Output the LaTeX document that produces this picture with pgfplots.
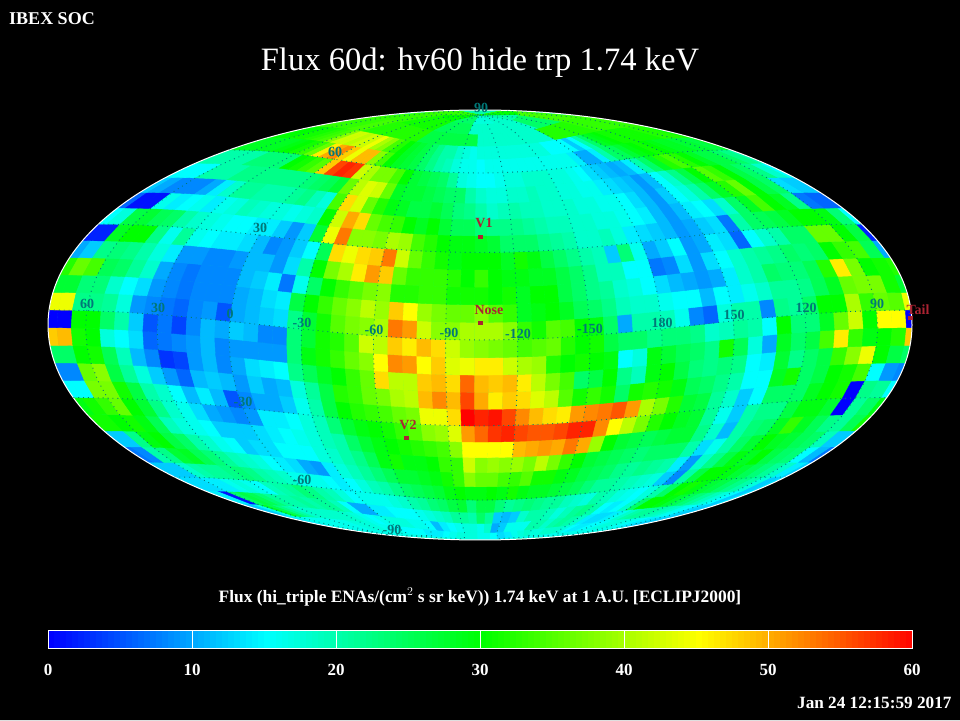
\documentclass[border=0pt]{standalone}
\usepackage{fontspec}
\setmainfont{Liberation Serif}
\usepackage{pgfplots}
\pgfplotsset{compat=1.18}

\definecolor{gratc}{RGB}{0,120,120}
\definecolor{markc}{RGB}{170,35,50}
\definecolor{capc}{RGB}{0,255,170}

% flux per 6x6 degree cell, south to north, one line per latitude band
\def\flux{%
{16,16,16,16,16,16,16,16,16,16,16,16,16,16,16,16,16,16,16,16,16,16,16,16,16,16,16,16,16,16,16,16,16,16,16,16,16,16,16,16,16,16,16,16,16,16,16,16,16,16,16,16,16,16,16,16,16,16,16,16},%
{12,14,16,16,16,16,16,16,16,16,16,17,17,17,17,16,16,16,15,15,15,15,14,14,14,15,16,17,17,17,16,16,15,13,14,16,17,18,17,17,18,18,18,17,15,14,14,15,15,16,17,17,17,16,16,15,14,14,13,12},%
{12,12,16,28,25,22,20,18,18,18,18,18,18,18,17,16,15,16,17,17,17,16,16,15,11,14,15,16,17,17,16,18,10,12,16,16,16,20,20,18,20,21,20,18,14,13,13,14,16,18,20,21,21,20,19,18,16,15,13,12},%
{14,14,1,24,26,25,23,21,20,20,21,20,21,21,19,15,10,10,14,14,15,15,15,16,17,18,19,21,21,20,24,21,12,11,12,18,20,20,19,17,19,21,22,20,15,14,15,18,24,30,30,29,27,25,23,21,19,17,15,12},%
{13,13,13,14,14,16,17,16,15,19,20,21,23,22,20,19,17,15,16,16,16,17,18,20,21,23,24,26,27,23,26,26,23,21,22,23,22,21,21,19,18,17,20,19,17,16,15,17,20,24,30,31,29,27,26,24,22,20,17,12},%
{12,12,12,18,20,21,21,22,23,22,20,19,18,16,16,16,15,14,15,17,19,20,22,24,25,26,27,29,30,29,29,30,29,31,29,28,28,27,26,25,23,21,21,20,19,18,17,12,8,20,26,30,30,29,27,25,23,21,18,14},%
{7,8,20,22,27,28,25,23,21,19,18,17,15,14,13,10,9,14,17,19,21,23,25,27,27,28,29,31,33,38,36,36,34,33,35,31,31,29,28,26,25,24,22,21,22,21,20,14,9,18,22,26,29,28,30,26,24,23,15,11},%
{12,12,22,29,30,26,24,20,18,16,15,12,13,13,15,15,15,17,18,20,22,25,29,31,29,29,30,33,33,42,38,39,38,39,37,41,37,33,30,27,26,25,24,23,24,24,24,20,13,16,20,24,27,30,28,27,25,24,19,12},%
{31,31,30,31,29,25,19,17,16,15,12,12,12,13,14,15,16,17,19,20,24,27,29,30,31,32,33,34,38,45,45,45,45,49,50,51,50,53,50,39,30,27,26,25,26,27,27,22,18,11,20,23,24,28,33,28,25,22,21,25},%
{29,31,33,36,30,27,22,18,16,13,10,9,8,9,14,14,15,17,19,23,27,29,30,31,33,35,38,39,43,51,54,57,58,56,55,55,56,58,58,52,45,41,37,32,30,28,27,21,16,12,20,22,22,26,29,29,27,0,21,24},%
{15,15,37,37,31,26,20,18,15,11,14,11,5,8,10,10,12,16,20,26,30,32,33,34,36,37,44,44,47,60,58,59,56,52,49,47,46,51,52,53,55,51,40,37,32,27,26,21,18,12,15,24,24,24,28,30,31,0,22,21},%
{8,8,36,38,26,21,17,12,9,6,11,12,11,9,12,10,11,17,21,26,32,33,36,37,40,41,49,52,49,56,50,46,48,47,43,41,35,31,33,31,24,31,32,31,29,25,24,22,20,15,15,28,31,24,26,30,31,34,15,9},%
{24,24,30,31,25,19,11,8,3,4,9,11,8,10,13,14,15,22,25,28,30,33,36,47,41,41,48,49,47,54,49,48,49,46,41,37,34,24,26,30,22,19,29,30,26,23,22,23,22,15,14,27,22,24,26,33,38,44,30,26},%
{48,49,31,30,17,15,13,6,7,8,9,11,8,9,9,9,9,23,29,31,33,36,38,45,52,51,45,48,43,44,46,46,42,40,39,32,30,31,30,29,15,17,29,27,25,24,22,31,25,17,10,28,24,26,34,46,33,29,30,32},%
{0,0,30,30,24,20,12,5,7,4,8,11,10,12,11,8,8,23,27,31,32,35,42,41,48,46,49,47,42,39,38,37,36,34,35,36,32,30,31,26,24,24,22,23,23,22,18,19,21,20,15,30,23,23,28,36,42,30,45,45},%
{44,44,22,22,21,17,9,8,7,6,8,9,5,10,11,12,13,22,27,31,35,37,38,40,53,51,42,38,38,40,40,40,38,33,31,35,34,30,29,24,10,20,20,19,16,8,6,17,20,20,8,22,21,24,30,30,40,33,36,35},%
{27,27,23,23,18,15,13,9,8,7,8,8,8,10,11,13,14,26,30,33,36,38,41,39,48,45,39,37,36,36,38,35,33,28,29,30,28,25,24,22,19,18,18,16,15,15,11,15,14,16,18,21,21,22,25,28,36,37,37,31},%
{32,36,34,25,24,21,18,10,8,7,8,8,8,11,12,14,7,16,24,30,33,35,37,38,32,32,33,33,31,31,31,30,31,28,30,30,26,24,22,21,18,17,15,13,11,10,9,10,14,18,20,24,23,23,25,32,46,37,30,31},%
{10,12,22,23,22,20,17,14,9,9,8,8,9,11,11,9,13,20,30,37,40,46,51,48,36,33,33,33,32,30,33,30,29,29,28,28,26,24,22,19,19,15,15,7,8,13,9,13,15,18,20,21,22,24,23,24,30,33,34,25},%
{2,2,28,30,30,22,16,21,16,15,14,14,13,11,8,9,12,15,25,47,44,47,48,53,42,36,33,31,29,30,30,30,28,31,29,26,24,22,20,19,12,23,16,10,12,15,9,10,14,13,6,15,18,20,24,24,36,36,30,26},%
{15,17,26,27,25,24,20,18,17,16,15,15,14,14,12,9,12,27,44,53,38,38,37,40,39,34,32,30,29,29,28,27,24,24,24,22,21,20,18,18,19,17,14,13,12,11,9,10,12,13,7,20,24,25,26,28,30,30,29,23},%
{6,1,1,16,14,15,16,14,16,17,19,18,17,17,16,17,18,30,42,50,47,36,34,33,30,28,30,27,25,25,23,22,22,22,21,20,19,19,18,18,17,17,16,15,14,11,9,11,14,15,13,18,24,28,34,30,28,22,7,6},%
{12,10,8,8,8,10,14,18,21,21,20,20,20,21,22,19,17,34,47,43,36,32,29,28,26,26,27,25,23,22,20,18,19,20,19,19,18,18,18,17,17,16,16,15,13,11,9,12,15,17,20,24,28,32,36,30,26,24,13,12},%
{15,15,15,20,20,20,22,22,22,22,22,22,22,23,24,25,27,36,41,43,42,36,28,27,27,26,25,24,24,20,18,17,17,18,18,19,18,18,17,17,16,16,14,13,12,11,9,11,15,18,22,26,30,35,33,30,26,24,22,18},%
{20,20,20,20,20,23,23,23,23,30,31,33,35,48,56,58,57,42,40,37,37,34,30,27,26,25,24,21,17,16,15,15,16,17,17,18,18,18,17,17,16,15,13,12,11,10,11,14,20,24,28,32,34,32,30,28,26,26,24,22},%
{28,28,28,28,28,29,30,31,33,36,46,50,52,48,44,49,49,38,34,30,28,27,26,24,22,20,19,17,16,16,15,16,16,16,16,16,16,16,16,16,16,16,14,10,10,14,20,24,25,27,29,30,31,30,29,28,28,27,27,26},%
{30,30,30,31,31,32,33,34,38,42,42,41,42,42,44,40,38,34,32,30,28,27,26,24,22,20,20,18,17,16,17,17,17,17,17,17,17,17,17,17,15,15,15,15,12,15,20,24,28,29,30,31,31,31,31,31,31,32,32,32},%
{33,33,33,33,33,33,34,34,34,32,32,32,32,32,32,32,32,32,32,32,26,26,26,26,26,26,26,26,26,26,18,18,18,18,18,18,18,18,18,18,18,18,18,32,32,32,32,32,32,32,32,32,33,33,33,33,33,33,33,33},%
{33,33,33,33,33,33,33,33,33,33,31,31,31,31,31,31,31,31,31,31,25,25,25,25,25,25,25,25,18,18,18,18,18,18,18,18,18,18,18,18,18,18,18,18,24,24,24,24,24,24,24,24,34,34,34,34,34,34,34,34},%
{33,33,33,33,33,33,33,33,33,33,30,30,30,30,30,30,30,30,30,30,24,24,24,24,24,24,24,24,17,17,17,17,17,17,17,17,18,18,18,18,18,18,18,18,20,20,20,20,20,20,20,20,30,30,30,30,30,30,30,30}%
}

% Mollweide sin(theta) at 0,6,...,90 degrees
\def\mwv#1{\ifcase#1 0\or0.08219\or0.16403\or0.24517\or0.32528\or0.40397\or0.48086\or0.55562\or0.62778\or0.69707\or0.76233\or0.82361\or0.88015\or0.93034\or0.97240\or1\else1\fi}

% lat, offset from the nose meridian -> pixel position, map tilted so the nose (lat 5.1) is centred
\newcommand\proj[2]{%
  \pgfmathsetmacro\mCp{cos(#1)}%
  \pgfmathsetmacro\mSp{sin(#1)}%
  \pgfmathsetmacro\mCl{\mCp*cos(#2)}%
  \pgfmathsetmacro\mXx{\mCl*0.99604+\mSp*0.08889}%
  \pgfmathsetmacro\mYy{abs(\mCp*sin(#2))}%
  \pgfmathsetmacro\mLa{asin(max(-1,min(1,\mSp*0.99604-\mCl*0.08889)))}%
  \pgfmathsetmacro\mLo{atan2(\mYy,\mXx)}%
  \pgfmathsetmacro\mAa{abs(\mLa)/6}%
  \pgfmathtruncatemacro\mKk{\mAa}%
  \pgfmathtruncatemacro\mKn{\mKk+1}%
  \pgfmathsetmacro\mSs{\mwv\mKk+(\mwv\mKn-\mwv\mKk)*(\mAa-\mKk)}%
  \pgfmathsetmacro\px{480+2.4*\mLo*sqrt(max(0,1-\mSs*\mSs))*ifthenelse(#2<0,-1,1)}%
  \pgfmathsetmacro\py{395+ifthenelse(\mLa<0,-1,1)*215*\mSs}%
}
\newcommand\addv[3]{\proj{#1}{#2}\xdef\lowr{\lowr (\px,\py) [#3]}\xdef\uppr{\uppr (\px,\py) [0]}}
\newcommand\saverow[1]{%
  \expandafter\xdef\csname low#1\endcsname{\lowr}%
  \expandafter\xdef\csname up#1\endcsname{\uppr}%
}
\foreach \row [count=\j from 0] in \flux {%
  \pgfmathsetmacro\lat{-90+6*\j}%
  \gdef\lowr{}\gdef\uppr{}%
  \foreach \v [count=\n] in \row {%
    \ifnum\n=1
      \addv{\lat}{-180}{\v}\xdef\firstv{\v}%
    \else
      \pgfmathsetmacro\lam{-2.3+6*(\n-31)}%
      \addv{\lat}{\lam}{\v}%
    \fi
  }%
  \addv{\lat}{177.7}{\firstv}%
  \addv{\lat}{180}{0}%
  \saverow{\j}%
}
\gdef\lowr{}\gdef\uppr{}
\addv{90}{-180}{0}
\foreach \n in {2,...,61} {%
  \pgfmathsetmacro\lam{-2.3+6*(\n-31)}%
  \addv{90}{\lam}{0}%
}
\addv{90}{180}{0}
\saverow{30}

% graticule, one plot with breaks
\gdef\gratl{}
\foreach \m in {-164.3,-134.3,-104.3,-74.3,-44.3,-14.3,15.7,45.7,75.7,105.7,135.7,165.7} {%
  \foreach \f in {-90,-84,...,90} {\proj{\f}{\m}\xdef\gratl{\gratl (\px,\py)}}%
  \xdef\gratl{\gratl (nan,nan)}%
}
\foreach \f in {-60,-30,0,30,60} {%
  \foreach \m in {-180,-165,...,180} {\proj{\f}{\m}\xdef\gratl{\gratl (\px,\py)}}%
  \xdef\gratl{\gratl (nan,nan)}%
}

\gdef\cbar{}
\foreach \yb in {72,90} {%
  \foreach \k in {0,...,144} {%
    \pgfmathsetmacro\bx{48+6*\k}%
    \pgfmathsetmacro\bm{\k/2.4}%
    \xdef\cbar{\cbar (\bx,\yb) [\bm]}%
  }%
}

\newcommand\bandplot[1]{\addplot[surf,shader=flat corner,mesh/rows=2,mesh/cols=62,point meta=explicit] coordinates {#1};}
\newcommand\barplot[1]{\addplot[surf,shader=flat corner,mesh/rows=2,mesh/cols=145,point meta=explicit] coordinates {#1};}
\newcommand\gratplot[1]{\addplot[gratc,line width=0.9pt,dash pattern=on 0.9pt off 4pt,no marks,unbounded coords=jump] coordinates {#1};}
\newcommand\fs[1]{\fontsize{#1}{#1}\selectfont}
\newcommand\glab[3]{\node[text=gratc,font=\fs{14}\bfseries] at (axis cs:#1,#2) {#3};}
\newcommand\mlab[3]{\node[text=markc,font=\fs{14}\bfseries] at (axis cs:#1,#2) {#3};}
\newcommand\mdot[2]{\node[fill=markc,inner sep=0pt,minimum width=5pt,minimum height=4pt] at (axis cs:#1,#2) {};}
\newcommand\tlab[2]{\node[text=white,font=\fs{17}\bfseries] at (axis cs:#1,50) {#2};}

\begin{document}
\begin{tikzpicture}[x=1pt,y=1pt]
\fill[black] (0,0) rectangle (960,720);
\path[use as bounding box] (0,0) rectangle (960,720);
\begin{axis}[
    at={(0,0)},anchor=south west,
    scale only axis,width=960pt,height=720pt,
    xmin=0,xmax=960,ymin=0,ymax=720,
    hide axis,clip=true,
    colormap={ibex}{rgb255=(0,0,255) rgb255=(0,255,255) rgb255=(0,255,0) rgb255=(255,255,0) rgb255=(255,0,0)},
    point meta min=0,point meta max=60,
  ]
  \fill[capc] (axis cs:480,395) ellipse [x radius=432pt,y radius=215pt];
  \pgfplotsforeachungrouped \jj in {0,...,29}{%
    \pgfmathtruncatemacro\jn{\jj+1}%
    \edef\tmpband{\noexpand\bandplot{\csname low\jj\endcsname\csname up\jn\endcsname}}%
    \tmpband
  }
  \fill[black,even odd rule] (axis cs:0,0) rectangle (axis cs:960,720)
    (axis cs:480,395) ellipse [x radius=432pt,y radius=215pt];
  \draw[white,line width=1pt] (axis cs:480,395) ellipse [x radius=432pt,y radius=215pt];

  \expandafter\gratplot\expandafter{\gratl}

  % colour bar
  \expandafter\barplot\expandafter{\cbar}
  \draw[white,line width=1pt] (axis cs:48,72) rectangle (axis cs:912,90);
  \draw[white,line width=1pt] (axis cs:192,72) -- (axis cs:192,90);
  \draw[white,line width=1pt] (axis cs:336,72) -- (axis cs:336,90);
  \draw[white,line width=1pt] (axis cs:480,72) -- (axis cs:480,90);
  \draw[white,line width=1pt] (axis cs:624,72) -- (axis cs:624,90);
  \draw[white,line width=1pt] (axis cs:768,72) -- (axis cs:768,90);

  % grid labels
  \glab{87}{416}{60}\glab{158}{412}{30}\glab{230}{406}{0}\glab{302}{397}{-30}
  \glab{374}{390}{-60}\glab{449}{387}{-90}\glab{518}{386}{-120}\glab{590}{391}{-150}
  \glab{662}{397}{180}\glab{734}{405}{150}\glab{806}{412}{120}\glab{877}{416}{90}
  \glab{260}{492}{30}\glab{335}{568}{60}\glab{481}{612}{90}
  \glab{243}{318}{-30}\glab{302}{240}{-60}\glab{392}{190}{-90}

  % markers
  \mlab{484}{497}{V1}\mlab{489}{410}{Nose}\mlab{408}{295}{V2}\mlab{918}{410}{Tail}
  \mdot{480}{483}\mdot{480}{397}\mdot{406}{282}\mdot{910}{402}

  % text
  \node[text=white,font=\fs{18}\bfseries] at (axis cs:52,701) {IBEX SOC};
  \node[text=white,font=\fs{32.6}] at (axis cs:480,657) {Flux 60d: hv60 hide trp 1.74 keV};
  \node[text=white,font=\fs{17.4}\bfseries] at (axis cs:480,123) {Flux (hi\_triple ENAs/(cm$^{2}$ s sr keV)) 1.74 keV at 1 A.U. [ECLIPJ2000]};
  \tlab{48}{0}\tlab{192}{10}\tlab{336}{20}\tlab{480}{30}\tlab{624}{40}\tlab{768}{50}\tlab{912}{60}
  \node[text=white,font=\fs{17.2}\bfseries,anchor=east] at (axis cs:955,17) {Jan 24 12:15:59 2017};
\end{axis}
\end{tikzpicture}
\end{document}
